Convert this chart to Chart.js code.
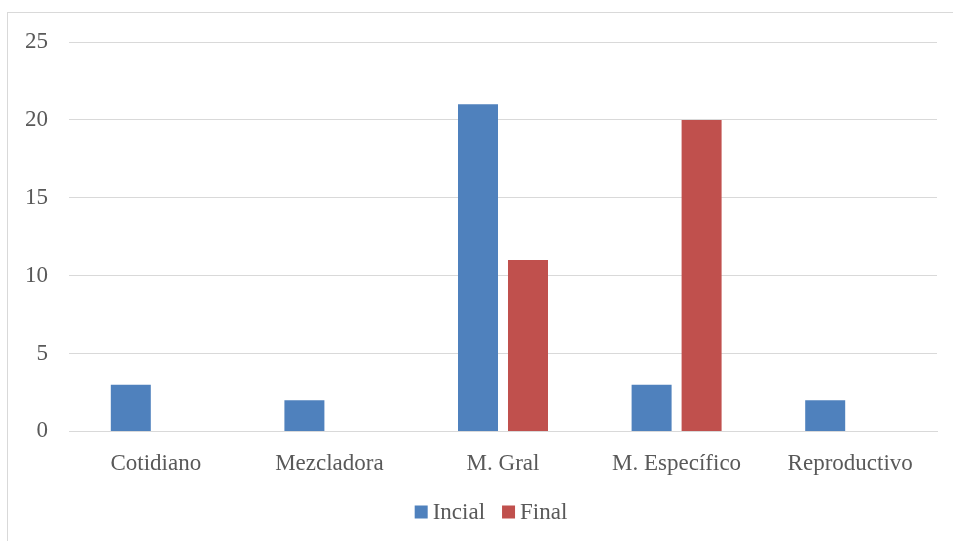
<!DOCTYPE html>
<html>
<head>
<meta charset="utf-8">
<script src="https://cdn.jsdelivr.net/npm/chart.js@4/dist/chart.umd.min.js"></script>
<style>
  html, body { margin: 0; padding: 0; background: #fff; overflow: hidden; }
  #wrap { position: absolute; left: 0; top: 0; width: 953px; height: 541px; }
  #frame { position: absolute; left: 7px; top: 12px; width: 980px; height: 600px; border: 1px solid #d9d9d9; box-sizing: border-box; }
  canvas { position: absolute; left: 0; top: 0; }
</style>
</head>
<body>
<div id="wrap">
  <div id="frame"></div>
  <canvas id="c" width="953" height="541"></canvas>
</div>
<script>
const categories = ['Cotidiano', 'Mezcladora', 'M. Gral', 'M. Específico', 'Reproductivo'];
const inicial = [3, 2, 21, 3, 2];
const final = [0, 0, 11, 20, 0];
const yTicks = [0, 5, 10, 15, 20, 25];

const FONT = "'Liberation Serif', 'Times New Roman', serif";
const TEXT = '#595959';
const GRID = '#d9d9d9';
const FONT_SIZE = 23;

// Compact legend under the axis: small squares with a tight gap before each label
const bottomLegend = {
  id: 'bottomLegend',
  afterDraw(chart) {
    const ctx = chart.ctx;
    const box = 13, gap = 5, between = 17;
    const cy = 512;
    ctx.save();
    ctx.font = FONT_SIZE + 'px ' + FONT;
    ctx.textBaseline = 'middle';
    ctx.textAlign = 'left';
    const items = chart.data.datasets.map(ds => ({
      label: ds.label, color: ds.backgroundColor, w: ctx.measureText(ds.label).width
    }));
    let total = 0;
    items.forEach((it, i) => { total += box + gap + it.w + (i ? between : 0); });
    const center = (chart.chartArea.left + chart.chartArea.right) / 2 - 12;
    let x = center - total / 2;
    items.forEach(it => {
      ctx.fillStyle = it.color;
      ctx.fillRect(x, cy - box / 2, box, box);
      x += box + gap;
      ctx.fillStyle = TEXT;
      ctx.fillText(it.label, x, cy + 1);
      x += it.w + between;
    });
    ctx.restore();
  }
};

new Chart(document.getElementById('c'), {
  type: 'bar',
  data: {
    labels: categories,
    datasets: [
      { label: 'Incial', data: inicial, backgroundColor: '#4F81BD', categoryPercentage: 0.576, barPercentage: 0.8 },
      { label: 'Final', data: final, backgroundColor: '#C0504D', categoryPercentage: 0.576, barPercentage: 0.8 }
    ]
  },
  plugins: [bottomLegend],
  options: {
    responsive: false,
    animation: false,
    layout: { padding: { left: 0, right: 16, top: 42, bottom: 44 } },
    plugins: {
      tooltip: { enabled: false },
      legend: { display: false }
    },
    scales: {
      x: {
        grid: { display: false, drawTicks: false },
        border: { display: true, color: GRID, width: 1 },
        ticks: { font: { family: FONT, size: FONT_SIZE }, color: TEXT, padding: 19, maxRotation: 0 }
      },
      y: {
        min: 0,
        max: 25,
        afterBuildTicks: (s) => { s.ticks = yTicks.map(v => ({ value: v })); },
        afterFit: (s) => { s.width = 69; },
        grid: { color: GRID, lineWidth: 1, drawTicks: false },
        border: { display: false },
        ticks: { font: { family: FONT, size: FONT_SIZE }, color: TEXT, padding: 21 }
      }
    }
  }
});
</script>
</body>
</html>
